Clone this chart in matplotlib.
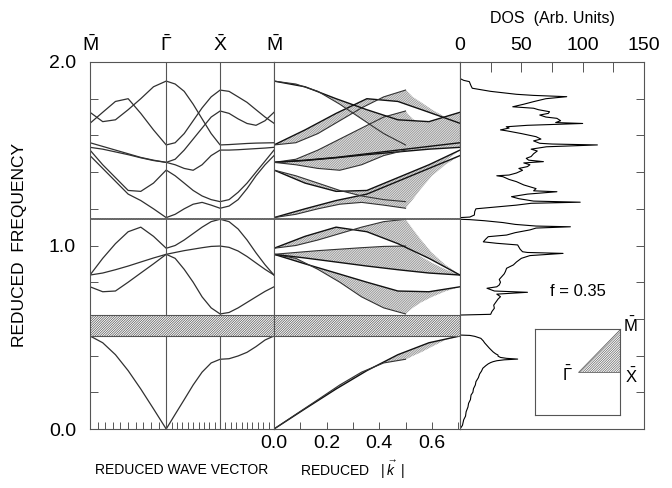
import numpy as np
import matplotlib.pyplot as plt
from matplotlib.patches import Polygon

plt.rcParams['font.family'] = ['Liberation Sans', 'DejaVu Sans']
plt.rcParams['mathtext.fontset'] = 'custom'
plt.rcParams['mathtext.rm'] = 'Liberation Sans'
plt.rcParams['mathtext.it'] = 'Liberation Sans:italic'
plt.rcParams['hatch.linewidth'] = 0.5

# positions along the M-Gamma-X-M path (reduced wave vector)
k_path = [0.0, 0.118, 0.236, 0.354, 0.471, 0.589, 0.707,
          0.790, 0.874, 0.957, 1.040, 1.124, 1.207,
          1.290, 1.374, 1.457, 1.540, 1.624, 1.707]
sym_pos = [0.0, 0.707, 1.207, 1.707]
sym_labels = [r'$\bar{\mathrm{M}}$', r'$\bar{\Gamma}$', r'$\bar{\mathrm{X}}$', r'$\bar{\mathrm{M}}$']

# band frequencies on k_path
band1 = [0.507, 0.47, 0.405, 0.318, 0.218, 0.11, 0.0, 0.08, 0.16, 0.24, 0.31, 0.36, 0.38,
         0.383, 0.398, 0.418, 0.449, 0.485, 0.507]
band2 = [0.775, 0.748, 0.752, 0.80, 0.85, 0.90, 0.952, 0.93, 0.87, 0.80, 0.72, 0.66, 0.627,
         0.635, 0.66, 0.69, 0.72, 0.75, 0.775]
band3 = [0.839, 0.85, 0.868, 0.888, 0.91, 0.932, 0.952, 0.962, 0.972, 0.98, 0.988, 0.995, 0.997,
         0.99, 0.97, 0.94, 0.905, 0.87, 0.839]
band4 = [0.839, 0.93, 1.01, 1.075, 1.10, 1.05, 0.985, 1.0, 1.03, 1.065, 1.10, 1.13, 1.143,
         1.13, 1.09, 1.03, 0.96, 0.895, 0.839]
band5 = [1.49, 1.42, 1.35, 1.28, 1.245, 1.2, 1.152, 1.17, 1.2, 1.225, 1.235, 1.22, 1.203,
         1.215, 1.25, 1.31, 1.38, 1.44, 1.49]
band6 = [1.52, 1.44, 1.37, 1.30, 1.295, 1.34, 1.411, 1.38, 1.34, 1.30, 1.27, 1.25, 1.239,
         1.25, 1.29, 1.34, 1.40, 1.46, 1.52]
band7 = [1.535, 1.525, 1.51, 1.495, 1.478, 1.463, 1.453, 1.47, 1.52, 1.58, 1.64, 1.70, 1.733,
         1.72, 1.69, 1.665, 1.655, 1.68, 1.726]
band8 = [1.56, 1.54, 1.52, 1.50, 1.48, 1.465, 1.453, 1.44, 1.42, 1.41, 1.44, 1.49, 1.52,
         1.52, 1.522, 1.525, 1.528, 1.531, 1.535]
band9 = [1.666, 1.726, 1.785, 1.80, 1.72, 1.63, 1.548, 1.56, 1.61, 1.68, 1.75, 1.81, 1.847,
         1.84, 1.81, 1.78, 1.74, 1.70, 1.666]
band10 = [1.726, 1.675, 1.685, 1.74, 1.80, 1.865, 1.896, 1.88, 1.84, 1.77, 1.69, 1.61, 1.548,
          1.55, 1.553, 1.556, 1.558, 1.559, 1.56]
bands = [band1, band2, band3, band4, band5, band6, band7, band8, band9, band10]

gap_main = (0.507, 0.621)
gap_thin = (1.143, 1.152)

# density of states: (frequency, DOS) pairs traced from bottom to top
dos_freq = [0.0, 0.02, 0.05, 0.07, 0.094, 0.12, 0.14, 0.16, 0.185, 0.2, 0.22, 0.24, 0.258,
            0.28, 0.30, 0.315, 0.331, 0.345, 0.355, 0.362, 0.367, 0.372, 0.377, 0.381, 0.385,
            0.39, 0.397, 0.403, 0.41, 0.42, 0.43, 0.44, 0.455, 0.47, 0.48, 0.494, 0.505, 0.51,
            0.512, 0.621,
            0.625, 0.64, 0.658, 0.675, 0.694, 0.708, 0.721, 0.735, 0.745, 0.752, 0.767, 0.775,
            0.785, 0.80, 0.815, 0.83, 0.845, 0.858, 0.876, 0.894, 0.91, 0.93, 0.945, 0.957,
            0.962, 0.966, 0.98, 1.003, 1.012, 1.02, 1.035, 1.048,
            1.057, 1.07, 1.085, 1.095, 1.102, 1.106, 1.115, 1.125, 1.135, 1.141, 1.143, 1.152,
            1.155, 1.166, 1.185, 1.2, 1.21, 1.22, 1.23, 1.236, 1.242, 1.255, 1.266, 1.28,
            1.293, 1.298, 1.31, 1.33, 1.348, 1.36, 1.375, 1.38, 1.384, 1.395, 1.41, 1.42,
            1.43, 1.44, 1.45, 1.457, 1.465, 1.475, 1.485, 1.5, 1.515, 1.525, 1.538, 1.548,
            1.553, 1.557, 1.57, 1.58, 1.593, 1.61, 1.625, 1.63, 1.64, 1.647, 1.655, 1.665,
            1.67, 1.68, 1.693, 1.7, 1.711, 1.72, 1.729, 1.74, 1.748, 1.756, 1.77, 1.784,
            1.80, 1.811, 1.818, 1.824, 1.84, 1.857, 1.87, 1.893, 1.9, 1.907, 1.91, 2.0]
dos_val = [0, 2, 3, 4.5, 5, 6.5, 7, 8.5, 9, 10.5, 11, 12.5, 13,
           15, 16, 17.5, 18.6, 21, 23, 25, 27, 30, 36, 47, 38,
           33, 31, 31, 29, 27, 25.5, 24, 22, 20, 19, 17, 12, 8,
           0, 0,
           25, 26, 28, 27.5, 29.5, 31, 33, 30, 55, 28, 22, 30,
           32, 33, 32, 34, 36, 37, 38, 43.5, 46, 50, 57, 84,
           55, 51, 49, 47, 30, 19, 21, 23,
           38, 45, 57, 62, 90, 62, 45, 35, 20, 8, 0, 0,
           8, 11.7, 12, 13, 30, 46, 58, 98, 60, 48, 42, 55,
           79, 60, 62, 52, 46, 40, 35, 30, 40, 46, 51, 48,
           55, 57, 52, 68, 56, 54, 58, 60, 63, 58, 70.5, 112,
           75, 65, 60, 66, 62, 50, 38, 33, 40, 37.7, 55, 100,
           78, 82, 79, 70, 65, 72, 73, 64, 60, 43, 52, 60,
           70, 87, 60, 46, 25, 10, 9, 7.6, 3, 1, 0, 0]

dos_ticks = [0, 50, 100, 150]
k_ticks = [0.0, 0.1, 0.2, 0.3, 0.4, 0.5, 0.6, 0.7]
zone_wedge = [(0, 0), (1, 0), (1, 1)]

W, H = 672, 488
fig = plt.figure(figsize=(W / 100, H / 100), dpi=100)


def px_axes(x0, y0, x1, y1):
    return fig.add_axes([x0 / W, 1 - y1 / H, (x1 - x0) / W, (y1 - y0) / H])


ax1 = px_axes(90, 62, 274, 429)
ax2 = px_axes(274, 62, 460, 429)
ax3 = px_axes(460, 62, 644, 429)

line_c = '#303030'
frame_c = '#555555'
dense = '/' * 14
for ax in (ax1, ax2, ax3):
    ax.set_ylim(0, 2)
    for s in ax.spines.values():
        s.set_color(frame_c)
        s.set_linewidth(0.8)

# ---- band structure along symmetry lines
for f in bands:
    ax1.plot(k_path, f, color=line_c, lw=0.9)
for x in sym_pos[1:3]:
    ax1.axvline(x, color=frame_c, lw=0.8)
ax1.set_xlim(0, 1.707)
ax1.set_xticks(sym_pos)
ax1.set_xticklabels(sym_labels)
ax1.tick_params(axis='x', which='major', top=True, bottom=False, labeltop=True,
                labelbottom=False, length=0, pad=5, labelsize=14)
minor = np.concatenate([np.linspace(0, 0.707, 11), np.linspace(0.707, 1.207, 11),
                        np.linspace(1.207, 1.707, 11)])
ax1.set_xticks(minor, minor=True)
ax1.tick_params(axis='x', which='minor', bottom=True, top=False, direction='in',
                length=5, width=0.7, color=frame_c)
yt = np.round(np.arange(0, 2.01, 0.2), 1)
ax1.set_yticks(yt)
ax1.set_yticklabels(['%.1f' % v if v in (0.0, 1.0, 2.0) else '' for v in yt])
ax1.tick_params(axis='y', direction='in', length=6, width=0.7, color=frame_c,
                labelsize=14, pad=10)

# ---- projected bands vs |k|
kp = np.array(k_path)
kmag = np.where(kp <= 0.707, 0.707 - kp,
                np.where(kp <= 1.207, kp - 0.707, np.sqrt(0.25 + (kp - 1.207) ** 2)))
order = list(range(6, 19)) + list(range(0, 6))
for f in bands:
    f = np.array(f)
    ax2.add_patch(Polygon(np.column_stack([kmag[order], f[order]]), closed=True,
                          facecolor='#e2e2e2', edgecolor='#8c8c8c', lw=0,
                          hatch=dense, zorder=1))
    ax2.plot(kmag[0:7], f[0:7], color='#111111', lw=1.0, zorder=2)
    ax2.plot(kmag[6:13], f[6:13], color='#333333', lw=0.8, zorder=2)
ax2.set_xlim(0, 0.707)
ax2.set_xticks(k_ticks)
ax2.set_xticklabels(['%.1f' % v if i % 2 == 0 else '' for i, v in enumerate(k_ticks)])
ax2.tick_params(axis='x', direction='in', length=5, width=0.7, color=frame_c,
                labelsize=14, pad=4)
ax2.set_yticks([])

for ax in (ax1, ax2):
    ax.axhspan(*gap_main, facecolor='white', edgecolor=frame_c, hatch=dense,
               lw=0.8, zorder=3)
    ax.axhspan(*gap_thin, facecolor='white', edgecolor=frame_c, hatch=dense,
               lw=0.6, zorder=3)

# ---- density of states
ax3.plot(dos_val, dos_freq, color='k', lw=0.8)
ax3.set_xlim(0, 150)
ax3.set_xticks(dos_ticks)
ax3.set_xticks([25, 75, 125], minor=True)
ax3.tick_params(axis='x', which='both', top=True, bottom=False, labeltop=True,
                labelbottom=False, direction='in', length=7, width=0.7, color=frame_c,
                labelsize=14, pad=6)
ax3.set_yticks(yt)
ax3.tick_params(axis='y', left=False, right=True, labelleft=False, direction='in',
                length=6, width=0.7, color=frame_c)
ax3.text(96, 0.75, 'f = 0.35', ha='center', va='center', fontsize=12)

# ---- inset: irreducible wedge of the surface zone
axi = px_axes(535, 329, 620, 415)
axi.set_xlim(-1, 1)
axi.set_ylim(-1, 1)
axi.set_xticks([])
axi.set_yticks([])
for s in axi.spines.values():
    s.set_color(frame_c)
    s.set_linewidth(0.8)
axi.add_patch(Polygon(zone_wedge, closed=True, facecolor='white', edgecolor='#666666',
                      hatch=dense, lw=0.6))
axi.text(-0.12, -0.05, r'$\bar{\Gamma}$', ha='right', va='center', fontsize=12)
axi.text(1.12, -0.1, r'$\bar{\mathrm{X}}$', ha='left', va='center', fontsize=12, clip_on=False)
axi.text(1.08, 1.08, r'$\bar{\mathrm{M}}$', ha='left', va='center', fontsize=12, clip_on=False)

# ---- outer labels
fig.text(20 / W, 1 - 245 / H, 'REDUCED  FREQUENCY', rotation=90, ha='center',
         va='center', fontsize=12.5)
fig.text(182 / W, 1 - 470 / H, 'REDUCED WAVE VECTOR', ha='center', va='center',
         fontsize=10, family=['Liberation Sans Narrow', 'Liberation Sans'])
fig.text(300 / W, 1 - 470 / H, r'REDUCED   $|\;\vec{k}\;\;|$', ha='left', va='center',
         fontsize=10, family=['Liberation Sans Narrow', 'Liberation Sans'])
fig.text(552 / W, 1 - 19 / H, 'DOS  (Arb. Units)', ha='center', va='center', fontsize=11.5)

fig.savefig('out.png', dpi=100)
